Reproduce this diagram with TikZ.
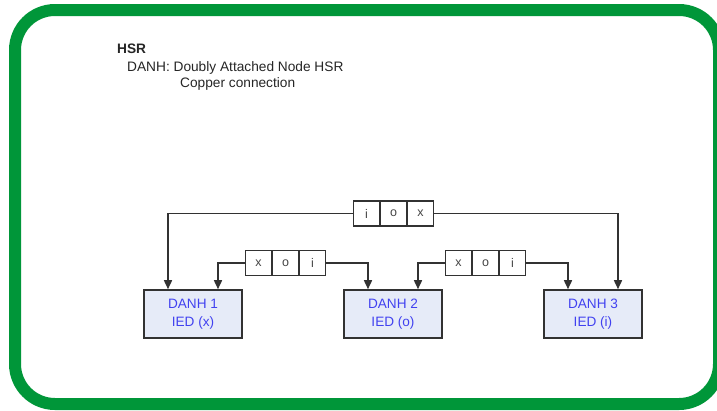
\documentclass[tikz,border=0pt]{standalone}
\usepackage{fontspec}
\setmainfont{Liberation Sans}
\usetikzlibrary{arrows.meta,calc,shadows}
\definecolor{frameGreen}{RGB}{0,150,57}
\definecolor{wireGray}{RGB}{50,50,50}
\definecolor{boxFill}{RGB}{230,235,248}
\definecolor{boxText}{RGB}{65,65,240}
\definecolor{cellText}{RGB}{70,70,70}
\tikzset{
  danh/.style={draw=wireGray, line width=1.6pt, fill=boxFill,
    minimum width=98pt, minimum height=48pt, inner sep=0pt,
    align=center, text=boxText, font=\fontsize{13.6}{17.5}\selectfont,
    drop shadow={shadow xshift=1.2pt, shadow yshift=-1.2pt, opacity=0.35}},
  cell/.style={draw=wireGray, line width=1.4pt, fill=white,
    minimum width=25.7pt, minimum height=25pt, inner sep=0pt,
    text=cellText, font=\fontsize{12.5}{13}\selectfont},
  wire/.style={draw=wireGray, line width=1.6pt,
    -{Triangle[length=9pt,width=8pt]}},
  note/.style={anchor=base west, inner sep=0pt, text=black!85,
    font=\fontsize{13.7}{16}\selectfont}
}
\begin{document}
\begin{tikzpicture}[x=1pt,y=-1pt]
  \useasboundingbox (0,0) rectangle (717,410);
  \fill[white] (0,0) rectangle (717,410);

  % rounded green frame
  \draw[line width=12pt, draw=frameGreen, rounded corners=40pt]
    (15,10) rectangle (719,404);

  % legend
  \node[note, font=\bfseries\fontsize{13.7}{16}\selectfont] (title) at (117,53) {HSR};
  \node[note] (legend1) at (127,71.5) {DANH: Doubly Attached Node HSR};
  \node[note] (legend2) at (180,87.5) {Copper connection};

  % the three doubly attached nodes
  \node[danh] (d1) at (193,314) {DANH 1\\IED (x)};
  \node[danh] (d2) at (393,314) {DANH 2\\IED (o)};
  \node[danh] (d3) at (593,314) {DANH 3\\IED (i)};

  % outer ring segment
  \node[cell] (t2) at (393.5,213.5) {o};
  \node[cell, anchor=east] (t1) at (t2.west) {i};
  \node[cell, anchor=west] (t3) at (t2.east) {x};

  % segment between DANH 1 and DANH 2
  \node[cell] (a2) at (285.5,263) {o};
  \node[cell, anchor=east] (a1) at (a2.west) {x};
  \node[cell, anchor=west] (a3) at (a2.east) {i};

  % segment between DANH 2 and DANH 3
  \node[cell] (b2) at (485.5,263) {o};
  \node[cell, anchor=east] (b1) at (b2.west) {x};
  \node[cell, anchor=west] (b3) at (b2.east) {i};

  % connections
  \draw[wire] (t1.west) -| ($(d1.north)+(-25,0)$);
  \draw[wire] (t3.east) -| ($(d3.north)+(25,0)$);
  \draw[wire] (a1.west) -| ($(d1.north)+(25,0)$);
  \draw[wire] (a3.east) -| ($(d2.north)+(-25,0)$);
  \draw[wire] (b1.west) -| ($(d2.north)+(25,0)$);
  \draw[wire] (b3.east) -| ($(d3.north)+(-25,0)$);
\end{tikzpicture}
\end{document}
